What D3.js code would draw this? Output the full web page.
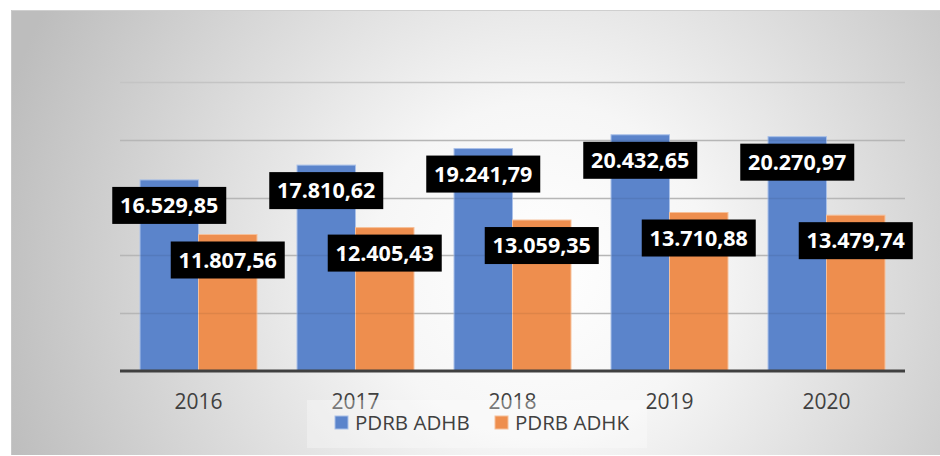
<!DOCTYPE html>
<html>
<head>
<meta charset="utf-8">
<script src="https://cdn.jsdelivr.net/npm/d3@7"></script>
<style>
  body { margin: 0; background: #fff; }
  svg { display: block; font-family: "Open Sans", "Noto Sans", sans-serif; }
</style>
</head>
<body>
<script>
const years = ["2016", "2017", "2018", "2019", "2020"];
const seriesNames = ["PDRB ADHB", "PDRB ADHK"];
const adhb = [16529.85, 17810.62, 19241.79, 20432.65, 20270.97];
const adhk = [11807.56, 12405.43, 13059.35, 13710.88, 13479.74];
const gridTicks = [5000, 10000, 15000, 20000, 25000];
const colors = ["#5b84cb", "#ee8e4e"];

const W = 940, H = 456;
const plot = { left: 120, right: 905, top: 82, bottom: 371 };

const svg = d3.select("body").append("svg")
    .attr("width", W)
    .attr("height", H);

const defs = svg.append("defs");
const grad = defs.append("radialGradient")
    .attr("id", "bg")
    .attr("gradientUnits", "userSpaceOnUse")
    .attr("cx", 540).attr("cy", 270).attr("r", 560);
grad.append("stop").attr("offset", "0%").attr("stop-color", "#ffffff");
grad.append("stop").attr("offset", "30%").attr("stop-color", "#f6f6f6");
grad.append("stop").attr("offset", "100%").attr("stop-color", "#bdbdbd");

// chart frame
svg.append("rect")
    .attr("x", 11).attr("y", 10)
    .attr("width", W - 11).attr("height", 445)
    .attr("fill", "url(#bg)");
svg.append("line")
    .attr("x1", 11).attr("x2", W).attr("y1", 10.5).attr("y2", 10.5)
    .attr("stroke", "#cfcfcf");
svg.append("line")
    .attr("x1", 11.5).attr("x2", 11.5).attr("y1", 10).attr("y2", 455)
    .attr("stroke", "#c8c8c8");

const x0 = d3.scaleBand()
    .domain(years)
    .range([plot.left, plot.right])
    .paddingInner(0.255)
    .paddingOuter(0.1275);

const x1 = d3.scaleBand()
    .domain(seriesNames)
    .range([0, x0.bandwidth()]);

const y = d3.scaleLinear()
    .domain([0, 25000])
    .range([plot.bottom, plot.top]);

const rows = years.map((yr, i) => ({ year: yr, values: [adhb[i], adhk[i]] }));

// gridlines
svg.append("g")
    .selectAll("line")
    .data(gridTicks)
    .join("line")
    .attr("x1", plot.left).attr("x2", plot.right)
    .attr("y1", d => Math.round(y(d)) + 0.5)
    .attr("y2", d => Math.round(y(d)) + 0.5)
    .attr("stroke", "#c4c4c4")
    .attr("stroke-width", 1.5);

// bars
const groups = svg.append("g")
    .selectAll("g")
    .data(rows)
    .join("g")
    .attr("transform", d => "translate(" + x0(d.year) + ",0)");

groups.selectAll("rect")
    .data(d => d.values.map((v, k) => ({ key: seriesNames[k], k: k, value: v })))
    .join("rect")
    .attr("x", d => x1(d.key))
    .attr("y", d => y(d.value))
    .attr("width", x1.bandwidth())
    .attr("height", d => y(0) - y(d.value))
    .attr("fill", d => colors[d.k])
    .attr("stroke", d => d.k === 0 ? "#a9c0e8" : "#f6c09a")
    .attr("stroke-width", 1);

// gridlines faintly visible through bars
svg.append("g")
    .selectAll("line")
    .data(gridTicks.slice(0, 4))
    .join("line")
    .attr("x1", plot.left).attr("x2", plot.right)
    .attr("y1", d => Math.round(y(d)) + 0.5)
    .attr("y2", d => Math.round(y(d)) + 0.5)
    .attr("stroke", "#000")
    .attr("stroke-opacity", 0.07)
    .attr("stroke-width", 1.5);

// x axis
const xAxis = svg.append("g")
    .attr("transform", "translate(0," + plot.bottom + ")")
    .call(d3.axisBottom(x0).tickSize(0).tickPadding(23));
xAxis.select(".domain")
    .attr("stroke", "#404040")
    .attr("stroke-width", 3)
    .attr("d", "M" + plot.left + ",0H" + plot.right);
xAxis.selectAll("text")
    .attr("fill", "#404040")
    .attr("font-size", 21)
    .attr("font-family", "'Open Sans', sans-serif");

// data labels
const fmt = v => {
    const s = v.toFixed(2).split(".");
    return s[0].replace(/\B(?=(\d{3})+(?!\d))/g, ".") + "," + s[1];
};

const labels = groups.selectAll("g.lbl")
    .data(d => d.values.map((v, k) => ({ key: seriesNames[k], k: k, value: v })))
    .join("g")
    .attr("class", "lbl")
    .attr("transform", d => "translate(" + (x1(d.key) + x1.bandwidth() / 2) + "," + (y(d.value) + 25.5) + ")");

labels.append("rect")
    .attr("x", -57).attr("y", -18.5)
    .attr("width", 114).attr("height", 37)
    .attr("fill", "#000");

labels.append("text")
    .attr("text-anchor", "middle")
    .attr("dy", "0.36em")
    .attr("fill", "#fff")
    .attr("font-weight", "bold")
    .attr("font-size", 21.5)
    .attr("font-family", "'Open Sans', sans-serif")
    .text(d => fmt(d.value));

// legend
const legend = svg.append("g");
legend.append("rect")
    .attr("x", 307).attr("y", 400)
    .attr("width", 340).attr("height", 48)
    .attr("fill", "#fff")
    .attr("fill-opacity", 0.3);

const legendX = [335, 495];
const items = legend.selectAll("g.item")
    .data(seriesNames)
    .join("g")
    .attr("class", "item")
    .attr("transform", (d, i) => "translate(" + legendX[i] + ",416)");

items.append("rect")
    .attr("width", 13).attr("height", 13)
    .attr("fill", (d, i) => colors[i])
    .attr("stroke", (d, i) => i === 0 ? "#a9c0e8" : "#f6c09a");

items.append("text")
    .attr("x", 20)
    .attr("y", 6.5)
    .attr("dy", "0.36em")
    .attr("fill", "#404040")
    .attr("font-size", 20.5)
    .text(d => d);
</script>
</body>
</html>
